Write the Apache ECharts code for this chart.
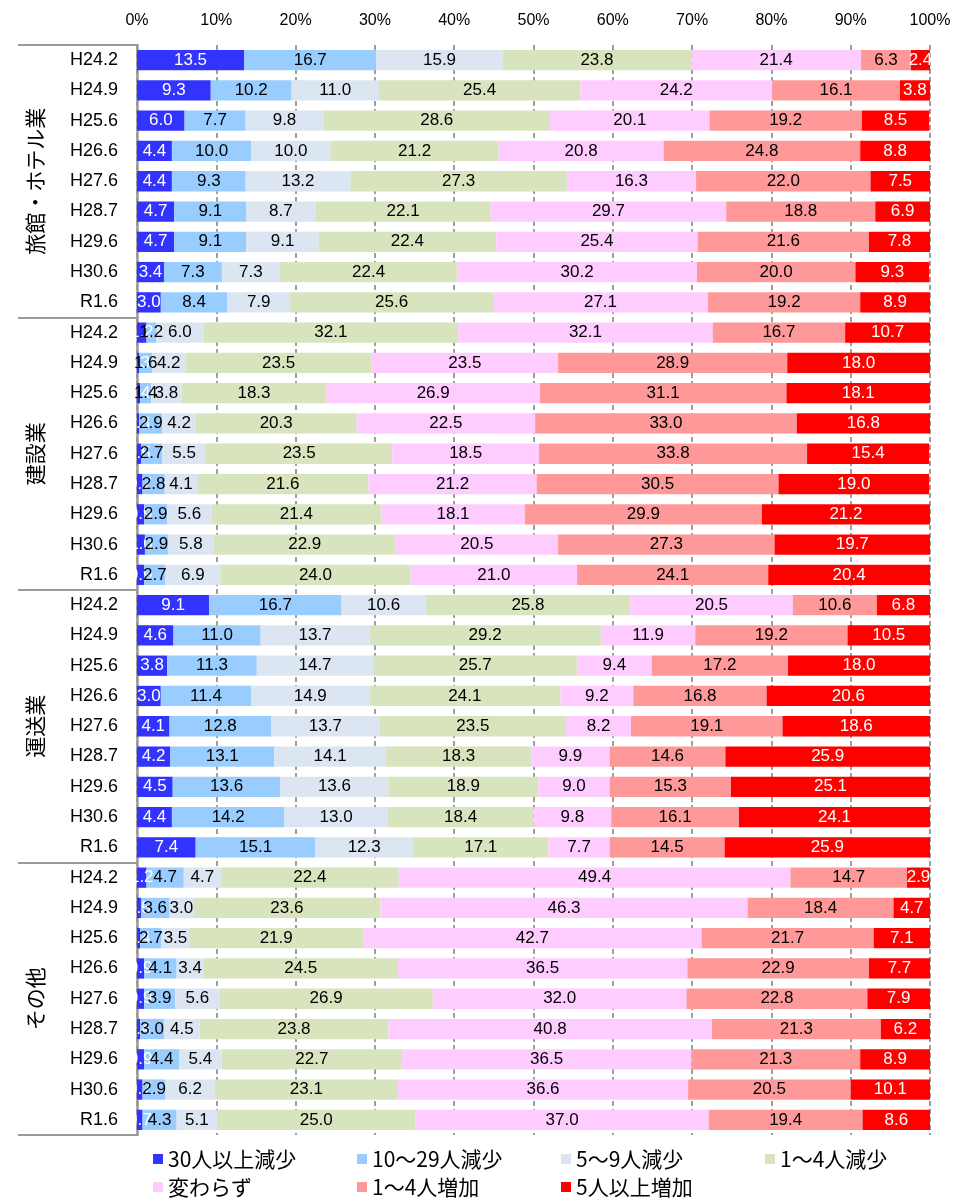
<!DOCTYPE html>
<html><head><meta charset="utf-8">
<script src="https://cdn.jsdelivr.net/npm/echarts@6/dist/echarts.min.js"></script>
<style>html,body{margin:0;padding:0;background:#fff}#c{width:969px;height:1200px}</style>
</head><body><div id="c"></div>
<script>
const periods = ['H24.2','H24.9','H25.6','H26.6','H27.6','H28.7','H29.6','H30.6','R1.6'];
const groups = ['旅館・ホテル業','建設業','運送業','その他'];
const categories = [].concat(periods, periods, periods, periods);
const seriesNames = ['30人以上減少','10～29人減少','5～9人減少','1～4人減少','変わらず','1～4人増加','5人以上増加'];
const xTicks = [0,10,20,30,40,50,60,70,80,90,100];

const down30 = [13.5,9.3,6.0,4.4,4.4,4.7,4.7,3.4,3.0,
  1.2,0.3,0.4,0.3,0.5,0.7,0.9,1.0,0.9,
  9.1,4.6,3.8,3.0,4.1,4.2,4.5,4.4,7.4,
  1.2,0.5,0.4,0.9,0.9,0.4,0.9,0.7,0.7];
const down10 = [16.7,10.2,7.7,10.0,9.3,9.1,9.1,7.3,8.4,
  1.2,1.6,1.4,2.9,2.7,2.8,2.9,2.9,2.7,
  16.7,11.0,11.3,11.4,12.8,13.1,13.6,14.2,15.1,
  4.7,3.6,2.7,4.1,3.9,3.0,4.4,2.9,4.3];
const down5 = [15.9,11.0,9.8,10.0,13.2,8.7,9.1,7.3,7.9,
  6.0,4.2,3.8,4.2,5.5,4.1,5.6,5.8,6.9,
  10.6,13.7,14.7,14.9,13.7,14.1,13.6,13.0,12.3,
  4.7,3.0,3.5,3.4,5.6,4.5,5.4,6.2,5.1];
const down1 = [23.8,25.4,28.6,21.2,27.3,22.1,22.4,22.4,25.6,
  32.1,23.5,18.3,20.3,23.5,21.6,21.4,22.9,24.0,
  25.8,29.2,25.7,24.1,23.5,18.3,18.9,18.4,17.1,
  22.4,23.6,21.9,24.5,26.9,23.8,22.7,23.1,25.0];
const same = [21.4,24.2,20.1,20.8,16.3,29.7,25.4,30.2,27.1,
  32.1,23.5,26.9,22.5,18.5,21.2,18.1,20.5,21.0,
  20.5,11.9,9.4,9.2,8.2,9.9,9.0,9.8,7.7,
  49.4,46.3,42.7,36.5,32.0,40.8,36.5,36.6,37.0];
const up1 = [6.3,16.1,19.2,24.8,22.0,18.8,21.6,20.0,19.2,
  16.7,28.9,31.1,33.0,33.8,30.5,29.9,27.3,24.1,
  10.6,19.2,17.2,16.8,19.1,14.6,15.3,16.1,14.5,
  14.7,18.4,21.7,22.9,22.8,21.3,21.3,20.5,19.4];
const up5 = [2.4,3.8,8.5,8.8,7.5,6.9,7.8,9.3,8.9,
  10.7,18.0,18.1,16.8,15.4,19.0,21.2,19.7,20.4,
  6.8,10.5,18.0,20.6,18.6,25.9,25.1,24.1,25.9,
  2.9,4.7,7.1,7.7,7.9,6.2,8.9,10.1,8.6];

const seriesData = [down30, down10, down5, down1, same, up1, up5];
const colors = ['#3333FF','#99CCFF','#DCE6F2','#D7E4BD','#FFCCFF','#FF9999','#FF0000'];
const labelColors = ['#fff','#000','#000','#000','#000','#000','#fff'];
const FONT = '"Liberation Sans", Arial, "Noto Sans CJK JP", sans-serif';
const CJK = '"Noto Sans CJK JP", "Liberation Sans", sans-serif';

const chart = echarts.init(document.getElementById('c'));
chart.setOption({
  animation: false,
  backgroundColor: '#fff',
  textStyle: { fontFamily: FONT },
  grid: { left: 137, right: 39, top: 45, bottom: 65 },
  xAxis: {
    type: 'value', position: 'top', min: xTicks[0], max: xTicks[xTicks.length-1], interval: 10,
    axisLine: { show: false }, axisTick: { show: false },
    axisLabel: { formatter: '{value}%', fontSize: 16, color: '#000', margin: 16, fontFamily: FONT },
    splitLine: { show: true, lineStyle: { color: '#7f7f7f', type: [5, 3], width: 1.5 } }
  },
  yAxis: [{
    type: 'category', data: categories, inverse: true,
    axisLine: { show: true, lineStyle: { color: '#999', width: 2.5 } },
    axisTick: { show: false },
    axisLabel: { fontSize: 18, color: '#000', margin: 19, fontFamily: FONT }
  }, {
    type: 'category', data: groups, inverse: true, position: 'left', offset: 119,
    axisLine: { show: false },
    axisTick: { show: true, inside: true, length: 119, lineStyle: { color: '#999', width: 2 } },
    axisLabel: { inside: true, rotate: 90, margin: 7, fontSize: 21, color: '#000', fontFamily: CJK }
  }],
  legend: {
    data: seriesNames, left: 153, top: 1145, width: 830, itemGap: 0, padding: 0,
    itemWidth: 10, itemHeight: 10, icon: 'rect',
    formatter: name => '{a|' + name + '}',
    textStyle: {
      color: '#000', fontFamily: CJK,
      rich: { a: { width: 189, height: 28, lineHeight: 28, fontSize: 21, color: '#000', fontFamily: CJK } }
    }
  },
  series: seriesNames.map((name, i) => ({
    name, type: 'bar', stack: 'all', yAxisIndex: 0,
    data: seriesData[i], barCategoryGap: '33%',
    itemStyle: { color: colors[i] },
    label: {
      show: true, position: 'inside', color: labelColors[i], fontSize: 17, fontFamily: FONT,
      overflow: 'none',
      formatter: p => p.value.toFixed(1)
    }
  }))
});
</script></body></html>
